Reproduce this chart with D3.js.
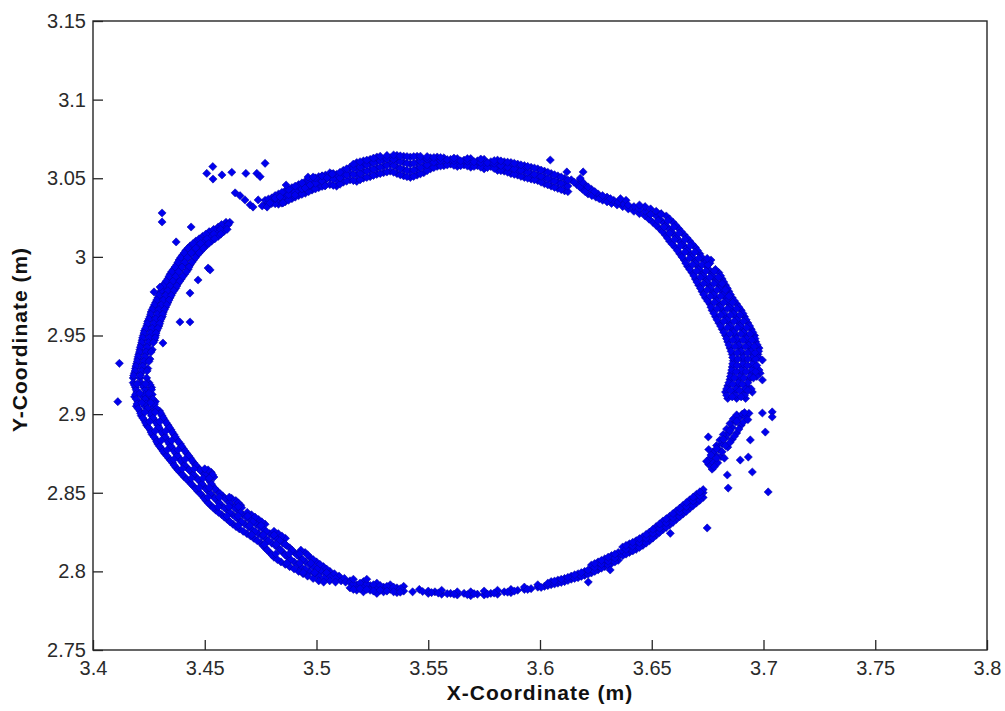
<!DOCTYPE html>
<html>
<head>
<meta charset="utf-8">
<script src="https://cdn.jsdelivr.net/npm/d3@7"></script>
<style>
  html, body { margin: 0; padding: 0; background: #ffffff; }
  svg { display: block; }
  .tick text { font-family: "Liberation Sans", Arial, sans-serif; font-size: 20px; fill: #2a2a2a; }
  .axis-title { font-family: "Liberation Sans", Arial, sans-serif; font-size: 21px; font-weight: bold; fill: #111; letter-spacing: 1px; }
</style>
</head>
<body>
<svg id="chart" width="1005" height="711"></svg>
<script>
// ---------------- DATA ----------------
const xTicks = [3.4, 3.45, 3.5, 3.55, 3.6, 3.65, 3.7, 3.75, 3.8];
const xTickLabels = ["3.4", "3.45", "3.5", "3.55", "3.6", "3.65", "3.7", "3.75", "3.8"];
const yTicks = [2.75, 2.8, 2.85, 2.9, 2.95, 3.0, 3.05, 3.1, 3.15];
const yTickLabels = ["2.75", "2.8", "2.85", "2.9", "2.95", "3", "3.05", "3.1", "3.15"];
const xTitle = "X-Coordinate (m)";
const yTitle = "Y-Coordinate (m)";

// Rows: [y, x1, x2, ...]  — left upper arc
const leftUpperArc = [
  [3.022, 3.4595, 3.4612], [3.019, 3.4560, 3.4590], [3.016, 3.4520, 3.4555, 3.4585],
  [3.013, 3.4490, 3.4525, 3.4560], [3.010, 3.4460, 3.4495, 3.4530], [3.007, 3.4435, 3.4470, 3.4505],
  [3.004, 3.4415, 3.4450, 3.4485], [3.001, 3.4400, 3.4430, 3.4465], [2.998, 3.4385, 3.4415, 3.4450],
  [2.995, 3.4375, 3.4405, 3.4435], [2.992, 3.4360, 3.4390, 3.4425], [2.989, 3.4345, 3.4375, 3.4410],
  [2.986, 3.4335, 3.4365, 3.4395], [2.983, 3.4320, 3.4350, 3.4380], [2.980, 3.4310, 3.4340, 3.4370],
  [2.977, 3.4300, 3.4330, 3.4355], [2.974, 3.4290, 3.4320, 3.4345], [2.971, 3.4280, 3.4310, 3.4335],
  [2.968, 3.4270, 3.4300, 3.4325], [2.965, 3.4260, 3.4290, 3.4315], [2.962, 3.4255, 3.4285, 3.4310],
  [2.959, 3.4245, 3.4275, 3.4300], [2.956, 3.4240, 3.4270, 3.4295], [2.953, 3.4230, 3.4260, 3.4285],
  [2.950, 3.4225, 3.4255, 3.4280], [2.947, 3.4220, 3.4250, 3.4275], [2.944, 3.4215, 3.4245],
  [2.941, 3.4210, 3.4240, 3.4265], [2.938, 3.4205, 3.4235], [2.935, 3.4200, 3.4230, 3.4255],
  [2.932, 3.4195, 3.4225], [2.929, 3.4190, 3.4220, 3.4245], [2.926, 3.4185, 3.4215],
  [2.923, 3.4180, 3.4210, 3.4240],
  [3.0205, 3.4575, 3.4605], [3.0175, 3.4540, 3.4570, 3.4600], [3.0145, 3.4505, 3.4540, 3.4572],
  [3.0115, 3.4475, 3.4510, 3.4545], [3.0085, 3.4448, 3.4482, 3.4518], [3.0055, 3.4425, 3.4460, 3.4495],
  [3.0025, 3.4408, 3.4440, 3.4475], [2.9995, 3.4392, 3.4422, 3.4458], [2.9965, 3.4380, 3.4410, 3.4442],
  [2.9935, 3.4367, 3.4398, 3.4430], [2.9905, 3.4352, 3.4383, 3.4418], [2.9875, 3.4340, 3.4370, 3.4402],
  [2.9845, 3.4327, 3.4357, 3.4388], [2.9815, 3.4315, 3.4345, 3.4375], [2.9785, 3.4305, 3.4335, 3.4362],
  [2.9755, 3.4295, 3.4325, 3.4350], [2.9725, 3.4285, 3.4315, 3.4340], [2.9695, 3.4275, 3.4305, 3.4330],
  [2.9665, 3.4265, 3.4295, 3.4320], [2.9635, 3.4258, 3.4288, 3.4312], [2.9605, 3.4250, 3.4280, 3.4305],
  [2.9575, 3.4243, 3.4272, 3.4298], [2.9545, 3.4235, 3.4265, 3.4290], [2.9515, 3.4228, 3.4258, 3.4282],
  [2.9485, 3.4222, 3.4252, 3.4278], [2.9455, 3.4218, 3.4248, 3.4270], [2.9425, 3.4212, 3.4242],
  [2.9395, 3.4208, 3.4238, 3.4260], [2.9365, 3.4202, 3.4232], [2.9335, 3.4198, 3.4228, 3.4250],
  [2.9305, 3.4192, 3.4222], [2.9275, 3.4188, 3.4218, 3.4242], [2.9245, 3.4182, 3.4212]
];

// Rows: [y, x1, x2, ...]  — lower left arc
const lowerLeftArc = [
  [2.9200, 3.4180, 3.4215, 3.4250], [2.9170, 3.4190, 3.4228, 3.4262], [2.9140, 3.4196, 3.4240],
  [2.9110, 3.4186, 3.4222, 3.4258], [2.9080, 3.4201, 3.4245, 3.4279], [2.9050, 3.4194, 3.4232, 3.4270],
  [2.9020, 3.4210, 3.4255, 3.4298], [2.8990, 3.4216, 3.4262, 3.4309], [2.8960, 3.4231, 3.4276, 3.4321],
  [2.8930, 3.4240, 3.4290, 3.4336], [2.8900, 3.4256, 3.4301, 3.4349], [2.8870, 3.4265, 3.4316, 3.4362],
  [2.8840, 3.4281, 3.4330, 3.4374], [2.8810, 3.4290, 3.4342, 3.4391], [2.8780, 3.4306, 3.4356, 3.4404],
  [2.8750, 3.4321, 3.4371, 3.4420], [2.8720, 3.4339, 3.4386, 3.4436], [2.8690, 3.4356, 3.4401, 3.4451],
  [2.8660, 3.4371, 3.4420, 3.4469], [2.8630, 3.4390, 3.4441, 3.4489, 3.4529],
  [2.8600, 3.4409, 3.4459, 3.4510, 3.4541], [2.8570, 3.4431, 3.4480, 3.4524],
  [2.8540, 3.4450, 3.4496, 3.4536], [2.8510, 3.4469, 3.4515, 3.4556], [2.8480, 3.4490, 3.4536, 3.4580],
  [2.8450, 3.4506, 3.4555, 3.4601, 3.4639], [2.8420, 3.4526, 3.4574, 3.4621, 3.4661],
  [2.8390, 3.4549, 3.4600, 3.4646], [2.8360, 3.4576, 3.4625, 3.4671, 3.4709],
  [2.8330, 3.4601, 3.4650, 3.4699, 3.4741], [2.8300, 3.4626, 3.4680, 3.4731, 3.4770],
  [2.8270, 3.4655, 3.4709, 3.4760], [2.8240, 3.4689, 3.4740, 3.4791, 3.4829],
  [2.8210, 3.4720, 3.4771, 3.4819, 3.4861], [2.8180, 3.4751, 3.4800, 3.4850],
  [2.8150, 3.4770, 3.4829, 3.4880], [2.8120, 3.4791, 3.4850, 3.4901, 3.4949],
  [2.8090, 3.4810, 3.4871, 3.4925, 3.4970], [2.8060, 3.4841, 3.4900, 3.4951, 3.5000],
  [2.8030, 3.4880, 3.4930, 3.4985, 3.5031], [2.8000, 3.4920, 3.4969, 3.5020, 3.5060],
  [2.7970, 3.4960, 3.5010, 3.5060, 3.5101], [2.7940, 3.5010, 3.5059, 3.5110, 3.5150],
  [2.9185, 3.4185, 3.4222, 3.4256], [2.9155, 3.4193, 3.4234, 3.4262], [2.9125, 3.4191, 3.4231, 3.4265],
  [2.9095, 3.4194, 3.4233, 3.4268], [2.9065, 3.4197, 3.4238, 3.4275], [2.9035, 3.4202, 3.4243, 3.4284],
  [2.9005, 3.4213, 3.4258, 3.4303], [2.8975, 3.4223, 3.4269, 3.4315], [2.8945, 3.4235, 3.4283, 3.4328],
  [2.8915, 3.4248, 3.4295, 3.4342], [2.8885, 3.4260, 3.4308, 3.4355], [2.8855, 3.4273, 3.4323, 3.4368],
  [2.8825, 3.4285, 3.4336, 3.4382], [2.8795, 3.4298, 3.4349, 3.4397], [2.8765, 3.4313, 3.4363, 3.4412],
  [2.8735, 3.4330, 3.4378, 3.4428], [2.8705, 3.4347, 3.4393, 3.4443], [2.8675, 3.4363, 3.4410, 3.4460],
  [2.8645, 3.4380, 3.4430, 3.4479, 3.4515], [2.8615, 3.4400, 3.4450, 3.4500, 3.4535],
  [2.8585, 3.4420, 3.4470, 3.4517], [2.8555, 3.4440, 3.4488, 3.4530], [2.8525, 3.4460, 3.4505, 3.4546],
  [2.8495, 3.4480, 3.4525, 3.4568], [2.8465, 3.4498, 3.4545, 3.4590, 3.4620],
  [2.8435, 3.4516, 3.4565, 3.4611, 3.4650], [2.8405, 3.4538, 3.4587, 3.4633, 3.4665],
  [2.8375, 3.4562, 3.4612, 3.4658, 3.4690], [2.8345, 3.4588, 3.4638, 3.4685, 3.4725],
  [2.8315, 3.4613, 3.4665, 3.4715, 3.4755], [2.8285, 3.4640, 3.4695, 3.4745],
  [2.8255, 3.4672, 3.4725, 3.4775, 3.4810], [2.8225, 3.4705, 3.4755, 3.4805, 3.4845],
  [2.8195, 3.4735, 3.4785, 3.4835], [2.8165, 3.4760, 3.4815, 3.4865],
  [2.8135, 3.4780, 3.4840, 3.4890, 3.4930], [2.8105, 3.4800, 3.4860, 3.4913, 3.4960],
  [2.8075, 3.4825, 3.4885, 3.4938, 3.4985], [2.8045, 3.4860, 3.4915, 3.4968, 3.5015],
  [2.8015, 3.4900, 3.4950, 3.5002, 3.5045], [2.7985, 3.4940, 3.4990, 3.5040, 3.5080],
  [2.7955, 3.4985, 3.5035, 3.5085, 3.5125],
  [2.9192, 3.4198, 3.4235], [2.9132, 3.4210, 3.4250], [2.9072, 3.4218, 3.4258],
  [2.9012, 3.4232, 3.4278], [2.8952, 3.4253, 3.4298], [2.8892, 3.4278, 3.4325],
  [2.8832, 3.4305, 3.4352], [2.8772, 3.4332, 3.4380], [2.8712, 3.4362, 3.4412],
  [2.8652, 3.4400, 3.4452, 3.4500], [2.8592, 3.4440, 3.4492, 3.4520], [2.8532, 3.4475, 3.4520],
  [2.8472, 3.4515, 3.4565, 3.4610], [2.8412, 3.4560, 3.4608, 3.4650], [2.8352, 3.4600, 3.4650, 3.4692],
  [2.8292, 3.4650, 3.4702, 3.4752], [2.8232, 3.4710, 3.4762, 3.4810], [2.8172, 3.4768, 3.4820, 3.4860],
  [2.8112, 3.4818, 3.4878, 3.4925], [2.8052, 3.4868, 3.4925, 3.4975], [2.7992, 3.4940, 3.4992, 3.5045],
  [2.7932, 3.5032, 3.5085, 3.5130]
];

// Columns: [x, y1, y2, ...] — bottom arc
const bottomArc = [
  [3.515, 2.7930, 2.7895], [3.518, 2.7915, 2.7880], [3.521, 2.7935, 2.7900, 2.7870],
  [3.524, 2.7910, 2.7880], [3.527, 2.7925, 2.7890, 2.7860], [3.530, 2.7900, 2.7870],
  [3.533, 2.7915, 2.7885], [3.536, 2.7895, 2.7865], [3.539, 2.7905, 2.7875],
  [3.543, 2.7870], [3.546, 2.7885], [3.550, 2.7860, 2.7875], [3.553, 2.7870],
  [3.556, 2.7855, 2.7880], [3.560, 2.7860], [3.563, 2.7850, 2.7870], [3.566, 2.7860],
  [3.569, 2.7845, 2.7870], [3.572, 2.7855], [3.575, 2.7850, 2.7875], [3.578, 2.7860],
  [3.581, 2.7855, 2.7880], [3.584, 2.7870], [3.587, 2.7865, 2.7885], [3.590, 2.7880],
  [3.593, 2.7885, 2.7900], [3.596, 2.7890], [3.599, 2.7900, 2.7915], [3.602, 2.7905],
  [3.605, 2.7915, 2.7935], [3.608, 2.7925, 2.7945], [3.611, 2.7935, 2.7955],
  [3.614, 2.7950, 2.7970], [3.617, 2.7960, 2.7985], [3.620, 2.7975, 2.8000],
  [3.623, 2.7990, 2.8015, 2.8040], [3.626, 2.8010, 2.8035, 2.8060],
  [3.629, 2.8030, 2.8055, 2.8080], [3.632, 2.8050, 2.8075, 2.8100],
  [3.635, 2.8070, 2.8095, 2.8120],
  [3.5165, 2.7920, 2.7885, 2.7950], [3.5195, 2.7925, 2.7890], [3.5225, 2.7920, 2.7885, 2.7950],
  [3.5255, 2.7915, 2.7875], [3.5285, 2.7910, 2.7880], [3.5315, 2.7905, 2.7875],
  [3.5345, 2.7900, 2.7870], [3.5375, 2.7890, 2.7868], [3.5475, 2.7872], [3.5515, 2.7865],
  [3.5545, 2.7862], [3.5585, 2.7858], [3.5615, 2.7855], [3.5675, 2.7852], [3.5705, 2.7858],
  [3.5765, 2.7855], [3.5795, 2.7862], [3.5855, 2.7868], [3.5885, 2.7875], [3.5945, 2.7885],
  [3.6005, 2.7898], [3.6035, 2.7910, 2.7925], [3.6065, 2.7920, 2.7938], [3.6095, 2.7930, 2.7950],
  [3.6125, 2.7942, 2.7962], [3.6155, 2.7955, 2.7978], [3.6185, 2.7968, 2.7992],
  [3.6215, 2.7982, 2.8008], [3.6245, 2.8000, 2.8025, 2.8050], [3.6275, 2.8020, 2.8045, 2.8070],
  [3.6305, 2.8040, 2.8065, 2.8090], [3.6335, 2.8060, 2.8085, 2.8110]
];

// Columns: [x, y1, y2, ...] — lower right arc
const lowerRightArc = [
  [3.637, 2.8100, 2.8130, 2.8155], [3.640, 2.8120, 2.8150, 2.8175], [3.643, 2.8140, 2.8170, 2.8195],
  [3.646, 2.8165, 2.8195, 2.8220], [3.649, 2.8195, 2.8225, 2.8250], [3.652, 2.8230, 2.8260, 2.8285],
  [3.655, 2.8265, 2.8290, 2.8320], [3.658, 2.8295, 2.8325, 2.8350], [3.661, 2.8330, 2.8360, 2.8385],
  [3.664, 2.8365, 2.8395, 2.8420], [3.667, 2.8400, 2.8430, 2.8455], [3.670, 2.8435, 2.8465, 2.8490],
  [3.673, 2.8470, 2.8500, 2.8520],
  [3.6385, 2.8110, 2.8140, 2.8165], [3.6415, 2.8130, 2.8160, 2.8185], [3.6445, 2.8152, 2.8182, 2.8208],
  [3.6475, 2.8180, 2.8210, 2.8235], [3.6505, 2.8212, 2.8242, 2.8268], [3.6535, 2.8248, 2.8275, 2.8302],
  [3.6565, 2.8280, 2.8308, 2.8335], [3.6595, 2.8312, 2.8342, 2.8368], [3.6625, 2.8348, 2.8378, 2.8402],
  [3.6655, 2.8382, 2.8412, 2.8438], [3.6685, 2.8418, 2.8448, 2.8472], [3.6715, 2.8452, 2.8482, 2.8505]
];

// Pairs: [x, y] — right cluster below the gap
const rightCluster = [
  [3.6755, 2.8680], [3.6770, 2.8700], [3.6760, 2.8720], [3.6785, 2.8740], [3.6775, 2.8760],
  [3.6800, 2.8775], [3.6790, 2.8800], [3.6815, 2.8810], [3.6805, 2.8835], [3.6830, 2.8850],
  [3.6820, 2.8870], [3.6845, 2.8880], [3.6835, 2.8905], [3.6860, 2.8915], [3.6850, 2.8940],
  [3.6875, 2.8950], [3.6865, 2.8970], [3.6890, 2.8975], [3.6880, 2.8995], [3.6905, 2.9000],
  [3.6920, 2.8985], [3.6935, 2.9005], [3.6900, 2.8930], [3.6795, 2.8690], [3.6810, 2.8730],
  [3.6840, 2.8790], [3.6860, 2.8840], [3.6880, 2.8880], [3.6770, 2.8650],
  [3.6790, 2.8720], [3.6815, 2.8760], [3.6830, 2.8800], [3.6850, 2.8820], [3.6870, 2.8860],
  [3.6890, 2.8905], [3.6910, 2.8950], [3.6930, 2.8965], [3.6915, 2.9010], [3.6880, 2.8955],
  [3.6850, 2.8895], [3.6820, 2.8840], [3.6790, 2.8780], [3.6765, 2.8740], [3.6745, 2.8700],
  [3.6780, 2.8665], [3.6825, 2.8720], [3.6755, 2.8775]
];

// Rows: [y, x1, x2, ...] — right upper arc
const rightUpperArc = [
  [2.910, 3.6840, 3.6880, 3.6920], [2.914, 3.6830, 3.6870, 3.6910, 3.6950],
  [2.918, 3.6840, 3.6885, 3.6925], [2.922, 3.6850, 3.6890, 3.6935],
  [2.926, 3.6855, 3.6900, 3.6945, 3.6985], [2.930, 3.6860, 3.6905, 3.6950],
  [2.934, 3.6865, 3.6910, 3.6955], [2.938, 3.6860, 3.6905, 3.6950, 3.6975],
  [2.942, 3.6850, 3.6895, 3.6940, 3.6980], [2.946, 3.6840, 3.6885, 3.6930, 3.6965],
  [2.950, 3.6830, 3.6875, 3.6920, 3.6960], [2.954, 3.6815, 3.6860, 3.6905, 3.6945],
  [2.958, 3.6800, 3.6845, 3.6890, 3.6930], [2.962, 3.6785, 3.6830, 3.6875, 3.6915],
  [2.966, 3.6770, 3.6815, 3.6860, 3.6900], [2.970, 3.6760, 3.6800, 3.6845, 3.6880],
  [2.974, 3.6740, 3.6785, 3.6830, 3.6860], [2.978, 3.6725, 3.6770, 3.6815, 3.6845],
  [2.982, 3.6710, 3.6755, 3.6800, 3.6830], [2.986, 3.6695, 3.6740, 3.6780, 3.6815],
  [2.990, 3.6680, 3.6720, 3.6765, 3.6800], [2.994, 3.6660, 3.6705, 3.6745],
  [2.998, 3.6645, 3.6690, 3.6730, 3.6765], [3.002, 3.6625, 3.6670, 3.6715],
  [3.006, 3.6605, 3.6650, 3.6695], [3.010, 3.6580, 3.6625, 3.6670],
  [3.014, 3.6560, 3.6600, 3.6645], [3.018, 3.6535, 3.6575, 3.6620],
  [3.022, 3.6505, 3.6550, 3.6595], [3.026, 3.6470, 3.6520, 3.6565],
  [3.029, 3.6420, 3.6470, 3.6520], [3.032, 3.6370, 3.6420, 3.6470],
  [3.034, 3.6320, 3.6370], [3.036, 3.6280, 3.6330, 3.6385], [3.038, 3.6250, 3.6300],
  [3.040, 3.6215, 3.6260], [3.043, 3.6190, 3.6230], [3.046, 3.6165, 3.6200],
  [3.049, 3.6140, 3.6180],
  [2.912, 3.6835, 3.6875, 3.6915], [2.916, 3.6835, 3.6878, 3.6918, 3.6945],
  [2.920, 3.6845, 3.6888, 3.6930], [2.924, 3.6852, 3.6895, 3.6940, 3.6970],
  [2.928, 3.6858, 3.6902, 3.6948, 3.6980], [2.932, 3.6862, 3.6908, 3.6952],
  [2.936, 3.6862, 3.6908, 3.6952, 3.6978], [2.940, 3.6855, 3.6900, 3.6945, 3.6978],
  [2.944, 3.6845, 3.6890, 3.6935, 3.6972], [2.948, 3.6835, 3.6880, 3.6925, 3.6962],
  [2.952, 3.6822, 3.6868, 3.6912, 3.6952], [2.956, 3.6808, 3.6852, 3.6898, 3.6938],
  [2.960, 3.6792, 3.6838, 3.6882, 3.6922], [2.964, 3.6778, 3.6822, 3.6868, 3.6908],
  [2.968, 3.6765, 3.6808, 3.6852, 3.6890], [2.972, 3.6750, 3.6792, 3.6838, 3.6870],
  [2.976, 3.6732, 3.6778, 3.6822, 3.6852], [2.980, 3.6718, 3.6762, 3.6808, 3.6838],
  [2.984, 3.6702, 3.6748, 3.6790, 3.6822], [2.988, 3.6688, 3.6730, 3.6772, 3.6808],
  [2.992, 3.6670, 3.6712, 3.6755, 3.6785], [2.996, 3.6652, 3.6698, 3.6738, 3.6760],
  [3.000, 3.6635, 3.6680, 3.6722], [3.004, 3.6615, 3.6660, 3.6705],
  [3.008, 3.6592, 3.6638, 3.6682], [3.012, 3.6570, 3.6612, 3.6658],
  [3.016, 3.6548, 3.6588, 3.6632], [3.020, 3.6520, 3.6562, 3.6608],
  [3.024, 3.6488, 3.6535, 3.6580], [3.0275, 3.6445, 3.6495, 3.6542],
  [3.0305, 3.6395, 3.6445, 3.6495], [3.033, 3.6345, 3.6395, 3.6445],
  [3.035, 3.6300, 3.6350], [3.037, 3.6265, 3.6315, 3.6360], [3.039, 3.6232, 3.6280],
  [3.0415, 3.6202, 3.6245], [3.0445, 3.6178, 3.6215], [3.0475, 3.6152, 3.6190],
  [2.911, 3.6860, 3.6900], [2.915, 3.6852, 3.6892, 3.6930], [2.919, 3.6862, 3.6905],
  [2.923, 3.6870, 3.6912, 3.6955], [2.927, 3.6878, 3.6922, 3.6965], [2.931, 3.6882, 3.6928, 3.6970],
  [2.935, 3.6885, 3.6930, 3.6965], [2.939, 3.6882, 3.6928, 3.6962], [2.943, 3.6872, 3.6918, 3.6958],
  [2.947, 3.6862, 3.6908, 3.6948], [2.951, 3.6850, 3.6898, 3.6940], [2.955, 3.6838, 3.6882, 3.6925],
  [2.959, 3.6822, 3.6868, 3.6910], [2.963, 3.6808, 3.6852, 3.6895], [2.967, 3.6792, 3.6838, 3.6880],
  [2.971, 3.6780, 3.6822, 3.6862], [2.975, 3.6762, 3.6808, 3.6845], [2.979, 3.6748, 3.6792, 3.6830],
  [2.983, 3.6732, 3.6778, 3.6815], [2.987, 3.6718, 3.6760, 3.6798], [2.991, 3.6700, 3.6742, 3.6780],
  [2.995, 3.6682, 3.6725, 3.6752], [2.999, 3.6668, 3.6710, 3.6748], [3.003, 3.6648, 3.6692],
  [3.007, 3.6628, 3.6672], [3.011, 3.6602, 3.6648], [3.015, 3.6580, 3.6622],
  [3.019, 3.6555, 3.6598], [3.023, 3.6528, 3.6572], [3.027, 3.6495, 3.6542]
];

// Columns: [x, y1, y2, ...] — top arc
const topArc = [
  [3.477, 3.0330, 3.0360], [3.480, 3.0340, 3.0375], [3.483, 3.0335, 3.0365, 3.0400],
  [3.486, 3.0350, 3.0385, 3.0420], [3.489, 3.0370, 3.0405, 3.0440], [3.492, 3.0390, 3.0425, 3.0460],
  [3.495, 3.0405, 3.0440, 3.0480], [3.498, 3.0425, 3.0460, 3.0495], [3.501, 3.0440, 3.0475, 3.0510],
  [3.504, 3.0455, 3.0490, 3.0520],
  [3.506, 3.0460, 3.0500, 3.0535], [3.509, 3.0450, 3.0490, 3.0525], [3.512, 3.0475, 3.0515, 3.0550],
  [3.515, 3.0490, 3.0530, 3.0570], [3.518, 3.0480, 3.0520, 3.0560, 3.0600],
  [3.521, 3.0500, 3.0540, 3.0580, 3.0610], [3.524, 3.0510, 3.0550, 3.0590, 3.0620],
  [3.527, 3.0525, 3.0565, 3.0605, 3.0635], [3.530, 3.0535, 3.0575, 3.0615],
  [3.533, 3.0545, 3.0590, 3.0630], [3.536, 3.0530, 3.0570, 3.0610, 3.0645],
  [3.539, 3.0515, 3.0555, 3.0600, 3.0640], [3.542, 3.0505, 3.0545, 3.0590, 3.0635],
  [3.545, 3.0520, 3.0560, 3.0600, 3.0640], [3.548, 3.0535, 3.0575, 3.0615],
  [3.551, 3.0560, 3.0595, 3.0630], [3.554, 3.0575, 3.0610, 3.0635], [3.557, 3.0580, 3.0615, 3.0630],
  [3.560, 3.0590, 3.0620], [3.563, 3.0575, 3.0605, 3.0625], [3.566, 3.0585, 3.0615],
  [3.569, 3.0570, 3.0600, 3.0625], [3.572, 3.0580, 3.0610], [3.575, 3.0560, 3.0590, 3.0620],
  [3.578, 3.0575, 3.0605], [3.581, 3.0550, 3.0585, 3.0615], [3.584, 3.0545, 3.0575, 3.0605],
  [3.587, 3.0530, 3.0565, 3.0600], [3.590, 3.0520, 3.0555, 3.0590], [3.593, 3.0505, 3.0545, 3.0580],
  [3.596, 3.0495, 3.0530, 3.0570], [3.599, 3.0485, 3.0520, 3.0560], [3.602, 3.0465, 3.0505, 3.0545],
  [3.605, 3.0450, 3.0490, 3.0530], [3.608, 3.0435, 3.0475, 3.0515], [3.611, 3.0420, 3.0460, 3.0500],
  [3.4785, 3.0345, 3.0368], [3.4815, 3.0338, 3.0370, 3.0390], [3.4845, 3.0342, 3.0375, 3.0410],
  [3.4875, 3.0360, 3.0395, 3.0430], [3.4905, 3.0380, 3.0415, 3.0450], [3.4935, 3.0398, 3.0432, 3.0470],
  [3.4965, 3.0415, 3.0450, 3.0488], [3.4995, 3.0432, 3.0468, 3.0502], [3.5025, 3.0448, 3.0482, 3.0515],
  [3.5075, 3.0455, 3.0495, 3.0530], [3.5105, 3.0462, 3.0502, 3.0538], [3.5135, 3.0482, 3.0522, 3.0560],
  [3.5165, 3.0485, 3.0525, 3.0565, 3.0590], [3.5195, 3.0490, 3.0530, 3.0570, 3.0605],
  [3.5225, 3.0505, 3.0545, 3.0585, 3.0615], [3.5255, 3.0518, 3.0558, 3.0598, 3.0628],
  [3.5285, 3.0530, 3.0570, 3.0610, 3.0640], [3.5315, 3.0540, 3.0582, 3.0622, 3.0645],
  [3.5345, 3.0538, 3.0580, 3.0620, 3.0648], [3.5375, 3.0522, 3.0562, 3.0605, 3.0642],
  [3.5405, 3.0510, 3.0550, 3.0595, 3.0638], [3.5435, 3.0512, 3.0552, 3.0595, 3.0638],
  [3.5465, 3.0528, 3.0568, 3.0608, 3.0640], [3.5495, 3.0548, 3.0585, 3.0622, 3.0638],
  [3.5525, 3.0568, 3.0602, 3.0632], [3.5555, 3.0578, 3.0612, 3.0632], [3.5585, 3.0585, 3.0618],
  [3.5615, 3.0582, 3.0612, 3.0628], [3.5645, 3.0580, 3.0610], [3.5675, 3.0578, 3.0608, 3.0625],
  [3.5705, 3.0575, 3.0605], [3.5735, 3.0570, 3.0600, 3.0622], [3.5765, 3.0568, 3.0598],
  [3.5795, 3.0562, 3.0595, 3.0612], [3.5825, 3.0548, 3.0580, 3.0610], [3.5855, 3.0538, 3.0570, 3.0602],
  [3.5885, 3.0525, 3.0560, 3.0595], [3.5915, 3.0512, 3.0550, 3.0585], [3.5945, 3.0500, 3.0538, 3.0575],
  [3.5975, 3.0490, 3.0525, 3.0565], [3.6005, 3.0475, 3.0512, 3.0552], [3.6035, 3.0458, 3.0498, 3.0538],
  [3.6065, 3.0442, 3.0482, 3.0522], [3.6095, 3.0428, 3.0468, 3.0508], [3.6125, 3.0415, 3.0450, 3.0488]
];

// Pairs: [x, y] — upper left band (after the jump) and stray points
const upperLeftBand = [
  [3.4636, 3.0407], [3.4658, 3.0389], [3.4680, 3.0362], [3.4703, 3.0331], [3.4716, 3.0317],
  [3.4739, 3.0362], [3.4757, 3.0324], [3.4779, 3.0317], [3.4792, 3.0343], [3.4815, 3.0374],
  [3.4837, 3.0381], [3.4850, 3.0343], [3.4864, 3.0457], [3.4904, 3.0393], [3.4949, 3.0438],
  [3.4971, 3.0457], [3.5038, 3.0451], [3.4962, 3.0508], [3.4985, 3.0508], [3.5025, 3.0514],
  [3.5047, 3.0502], [3.5070, 3.0527]
];

const strayPoints = [
  [3.4509, 3.0531], [3.4536, 3.0574], [3.4537, 3.0495], [3.4577, 3.0521], [3.4621, 3.0538],
  [3.4684, 3.0531], [3.4733, 3.0531], [3.4748, 3.0510], [3.4770, 3.0595],
  [3.4309, 3.0279], [3.4309, 3.0222], [3.4439, 3.0190], [3.4372, 3.0095], [3.4515, 2.9929],
  [3.4524, 2.9917], [3.4470, 2.9853], [3.4434, 2.9770], [3.4389, 2.9586], [3.4434, 2.9586],
  [3.4300, 2.9808], [3.4273, 2.9777], [3.4118, 2.9323], [3.4313, 2.9452], [3.4111, 2.9079],
  [3.6216, 2.7932], [3.6314, 2.8009], [3.6748, 2.8276], [3.6583, 2.8242],
  [3.6838, 2.8613], [3.6842, 2.8530], [3.7021, 2.8505], [3.6950, 2.8632], [3.6932, 2.8727],
  [3.6896, 2.8708], [3.7008, 2.8886], [3.6995, 2.9007], [3.7039, 2.9014], [3.7039, 2.8982],
  [3.6941, 2.8836], [3.6753, 2.8855], [3.6995, 2.9344], [3.6995, 2.9217],
  [3.6046, 3.0616], [3.6120, 3.0540], [3.6193, 3.0540], [3.6180, 3.0500]
];

// ---------------- DRAWING ----------------
const W = 1005, H = 711;
const margin = { left: 93, right: 18, top: 21, bottom: 61 };
const x = d3.scaleLinear().domain([3.4, 3.8]).range([margin.left, W - margin.right]);
const y = d3.scaleLinear().domain([2.75, 3.15]).range([H - margin.bottom, margin.top]);

const rowsToPoints = rows => rows.flatMap(([yy, ...xs]) => xs.map(xx => [xx, yy]));
const colsToPoints = cols => cols.flatMap(([xx, ...ys]) => ys.map(yy => [xx, yy]));

const points = [].concat(
  rowsToPoints(leftUpperArc),
  rowsToPoints(lowerLeftArc),
  colsToPoints(bottomArc),
  colsToPoints(lowerRightArc),
  rightCluster,
  rowsToPoints(rightUpperArc),
  colsToPoints(topArc),
  upperLeftBand,
  strayPoints
);

const svg = d3.select("#chart");
svg.append("rect").attr("width", W).attr("height", H).attr("fill", "#fff");

const axisColor = "#262626";

// markers (square diamonds like MATLAB 'd')
const r = 4.1;
const diamond = `M0,${-r}L${r},0L0,${r}L${-r},0Z`;
svg.append("g")
  .selectAll("path")
  .data(points)
  .join("path")
  .attr("d", diamond)
  .attr("transform", d => `translate(${x(d[0])},${y(d[1])})`)
  .attr("fill", "#0000ee")
  .attr("stroke", "#00009c")
  .attr("stroke-width", 0.5);

// axes
const xAxis = d3.axisBottom(x).tickValues(xTicks)
  .tickFormat((d, i) => xTickLabels[i]).tickSize(-10).tickPadding(11);
const yAxis = d3.axisLeft(y).tickValues(yTicks)
  .tickFormat((d, i) => yTickLabels[i]).tickSize(-10).tickPadding(7);

const gx = svg.append("g").attr("transform", `translate(0,${H - margin.bottom})`).call(xAxis);
const gy = svg.append("g").attr("transform", `translate(${margin.left},0)`).call(yAxis);
[gx, gy].forEach(g => {
  g.select(".domain").remove();
  g.selectAll(".tick line").attr("stroke", axisColor).attr("stroke-width", 1.3);
});

// box
svg.append("rect")
  .attr("x", margin.left).attr("y", margin.top)
  .attr("width", W - margin.left - margin.right)
  .attr("height", H - margin.top - margin.bottom)
  .attr("fill", "none").attr("stroke", axisColor).attr("stroke-width", 1.4);

// titles
svg.append("text").attr("class", "axis-title")
  .attr("x", (x.range()[0] + x.range()[1]) / 2).attr("y", 700)
  .attr("text-anchor", "middle").text(xTitle);
svg.append("text").attr("class", "axis-title")
  .attr("transform", `translate(27,${(y.range()[0] + y.range()[1]) / 2 + 4}) rotate(-90)`)
  .attr("text-anchor", "middle").text(yTitle);
</script>
</body>
</html>
